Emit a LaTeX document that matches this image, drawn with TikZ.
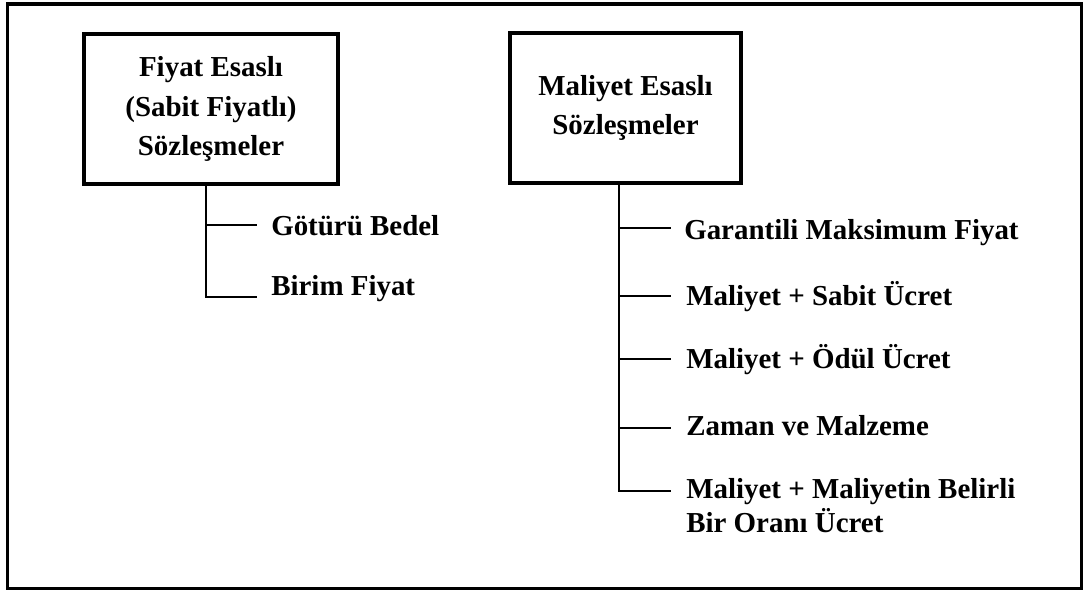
\documentclass[tikz,border=0pt]{standalone}
\usepackage{fontspec}
\setmainfont{Liberation Serif}
\begin{document}
\begin{tikzpicture}[x=0.75pt,y=-0.75pt,
  box/.style={draw,line width=2.3pt,minimum height=112.5pt,inner sep=0pt,
    align=center,font=\bfseries\fontsize{21.7}{29.5}\selectfont},
  item/.style={anchor=base west,inner sep=0pt,align=left,
    font=\bfseries\fontsize{21.7}{25}\selectfont},
  branch/.style={line width=1.7pt}]
\useasboundingbox (0,0) rectangle (1083,590);
% outer frame
\draw[line width=2.3pt] (7.5,4) rectangle (1081.5,588.5);

% the two contract families
\node[box,minimum width=190.5pt] (fp) at (211,109)
  {Fiyat Esaslı\\(Sabit Fiyatlı)\\Sözleşmeler};
\node[box,minimum width=173.25pt] (mp) at (625.5,108)
  {Maliyet Esaslı\\Sözleşmeler};

% price based items
\node[item] (gb) at (271,235) {Götürü Bedel};
\node[item] (bf) at (271,295) {Birim Fiyat};

% cost based items (base anchor sits on the last line)
\node[item] (gm) at (684,239) {Garantili Maksimum Fiyat};
\node[item] (ms) at (686,305) {Maliyet + Sabit Ücret};
\node[item] (mo) at (686,368) {Maliyet + Ödül Ücret};
\node[item] (zm) at (686,435) {Zaman ve Malzeme};
\node[item] (mb) at (686,532) {Maliyet + Maliyetin Belirli\\Bir Oranı Ücret};

% left tree
\coordinate (l1) at (206,225);
\coordinate (l2) at (206,297);
\draw[branch] (fp.south -| l2) -- (l2) -- ([xshift=-10.5pt]bf.base west |- l2);
\draw[branch] (l1) -- ([xshift=-10.5pt]gb.base west |- l1);

% right tree
\coordinate (r1) at (619,228);
\coordinate (r2) at (619,296);
\coordinate (r3) at (619,359);
\coordinate (r4) at (619,428);
\coordinate (r5) at (619,491);
\draw[branch] (mp.south -| r5) -- (r5) -- ([xshift=-11.25pt]mb.base west |- r5);
\draw[branch] (r1) -- ([xshift=-11.25pt]ms.base west |- r1);
\draw[branch] (r2) -- ([xshift=-11.25pt]ms.base west |- r2);
\draw[branch] (r3) -- ([xshift=-11.25pt]mo.base west |- r3);
\draw[branch] (r4) -- ([xshift=-11.25pt]zm.base west |- r4);
\end{tikzpicture}
\end{document}
